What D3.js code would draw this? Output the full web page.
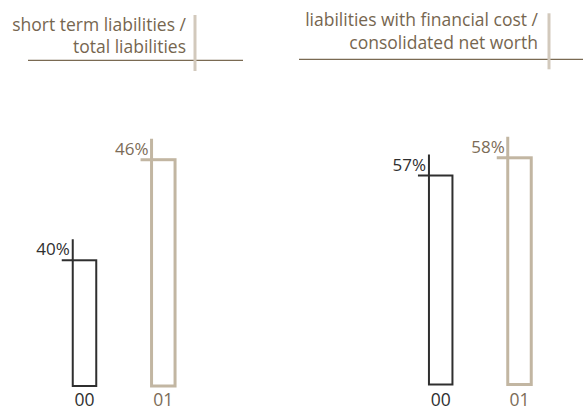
<!DOCTYPE html>
<html>
<head>
<meta charset="utf-8">
<script src="https://cdn.jsdelivr.net/npm/d3@7"></script>
<style>
  html, body { margin: 0; padding: 0; background: #fff; }
  svg { display: block; font-family: "Open Sans", sans-serif; }
</style>
</head>
<body>
<svg id="chart" width="583" height="410"></svg>
<script>
// Ratios per panel, two fiscal years each
const years = ["00", "01"];
const shortTermRatio = [40, 46];
const financialCostRatio = [57, 58];
const titleShortTerm = ["short term liabilities /", "total liabilities"];
const titleFinancial = ["liabilities with financial cost /", "consolidated net worth"];

const yearStyle = {
  "00": { stroke: "#2f2f2f", width: 2, text: "#2f2f2f" },
  "01": { stroke: "#c2b6a2", width: 3, text: "#7c6c57" }
};

const panels = [
  {
    title: titleShortTerm, values: shortTermRatio,
    titleEnd: 186, titleBase: 30.7, ruleY: 60.3, ruleX: [28, 243],
    markX: 195, markY: [15, 71],
    barsX: [84.5, 163.3], floor: 32.5, base: 386, top: 159.7
  },
  {
    title: titleFinancial, values: financialCostRatio,
    titleEnd: 538, titleBase: 26, ruleY: 59.3, ruleX: [299, 583],
    markX: 549, markY: [13.3, 69.3],
    barsX: [440.7, 519.5], floor: 45.2, base: 384.5, top: 157.8
  }
];

const svg = d3.select("#chart");
const barW = 23.5;

panels.forEach(p => {
  const g = svg.append("g");

  // heading, two right-aligned lines
  g.selectAll("text.title").data(p.title).join("text")
    .attr("class", "title")
    .attr("x", p.titleEnd)
    .attr("y", (d, i) => p.titleBase + i * 22.6)
    .attr("text-anchor", "end")
    .attr("font-size", 17.5)
    .attr("fill", "#76664f")
    .text(d => d);

  g.append("line")
    .attr("x1", p.ruleX[0]).attr("x2", p.ruleX[1])
    .attr("y1", p.ruleY).attr("y2", p.ruleY)
    .attr("stroke", "#7a6a52").attr("stroke-width", 1.2);

  g.append("line")
    .attr("x1", p.markX).attr("x2", p.markX)
    .attr("y1", p.markY[0]).attr("y2", p.markY[1])
    .attr("stroke", "#d2c9bc").attr("stroke-width", 3);

  const x = d3.scaleOrdinal().domain(years).range(p.barsX);
  const y = d3.scaleLinear().domain([p.floor, d3.max(p.values)]).range([p.base, p.top]);

  const bars = g.selectAll("g.bar").data(years.map((k, i) => ({ year: k, v: p.values[i] })))
    .join("g").attr("class", "bar");

  bars.append("rect")
    .attr("x", d => x(d.year) - barW / 2)
    .attr("y", d => y(d.v))
    .attr("width", barW)
    .attr("height", d => y(p.floor) - y(d.v))
    .attr("fill", "none")
    .attr("stroke", d => yearStyle[d.year].stroke)
    .attr("stroke-width", d => yearStyle[d.year].width);

  // value marker: the left edge rises above the bar and the top extends left
  bars.append("path")
    .attr("d", d => {
      const l = x(d.year) - barW / 2, t = y(d.v);
      return `M${l},${t - 21}V${t}M${l - 11},${t}H${l}`;
    })
    .attr("fill", "none")
    .attr("stroke", d => yearStyle[d.year].stroke)
    .attr("stroke-width", d => yearStyle[d.year].width);

  bars.append("text")
    .attr("x", d => x(d.year) - barW / 2 - 3)
    .attr("y", d => y(d.v) - 5)
    .attr("text-anchor", "end")
    .attr("font-size", 17)
    .attr("fill", d => yearStyle[d.year].text)
    .text(d => d.v + "%");

  bars.append("text")
    .attr("x", d => x(d.year))
    .attr("y", 406)
    .attr("text-anchor", "middle")
    .attr("font-size", 17.5)
    .attr("fill", d => yearStyle[d.year].text)
    .text(d => d.year);
});
</script>
</body>
</html>
